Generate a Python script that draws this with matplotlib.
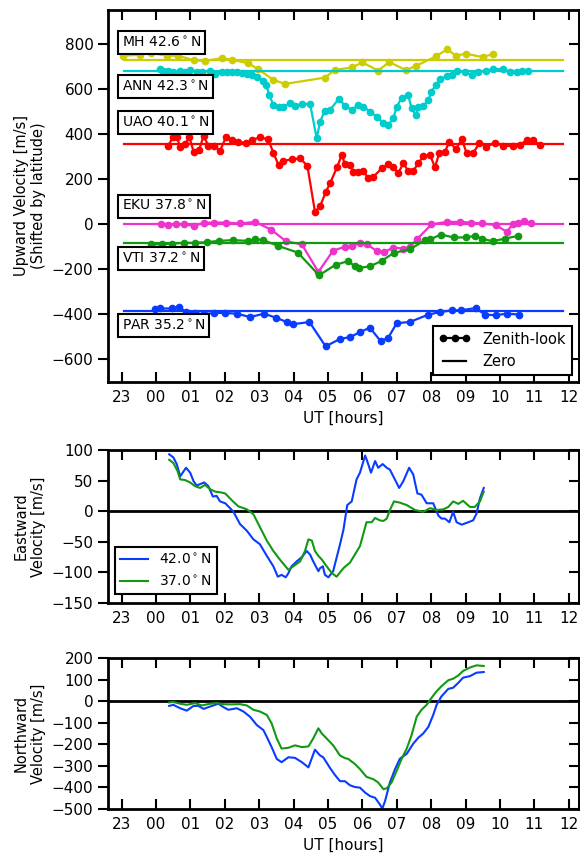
import matplotlib
matplotlib.use("Agg")
import matplotlib.pyplot as plt
from matplotlib.lines import Line2D

# ---------------- data ----------------
hour_ticks = list(range(-1, 13))
hour_labels = ['23', '00', '01', '02', '03', '04', '05', '06', '07', '08', '09', '10', '11', '12']

stations = ['MH', 'ANN', 'UAO', 'EKU', 'VTI', 'PAR']
station_lats = [42.6, 42.3, 40.1, 37.8, 37.2, 35.2]
station_offsets = [730, 680, 357, 0, -85, -385]
station_colors = ['#cccc00', '#00cccc', '#ff0000', '#ee33cc', '#119911', '#0a3cff']
label_y = [804, 609, 449, 80, -153, -449]

mh_t = [-0.95, -0.47, -0.15, 0.31, 0.65, 1.11, 1.42, 1.91, 2.20, 2.68, 2.97, 3.41, 3.75,
        4.91, 5.20, 5.69, 6.00, 6.46, 6.78, 7.27, 7.56, 8.14, 8.47, 8.72, 9.01, 9.50, 9.79]
mh_v = [747, 751, 759, 747, 747, 726, 724, 736, 729, 714, 687, 640, 622,
        650, 684, 695, 717, 681, 719, 683, 702, 744, 776, 747, 756, 741, 754]

ann_t = [0.10, 0.21, 0.36, 0.50, 0.70, 0.84, 0.99, 1.18, 1.33, 1.57, 1.72, 1.91, 2.05, 2.20,
         2.35, 2.49, 2.64, 2.78, 2.93, 3.12, 3.20, 3.29, 3.41, 3.56, 3.70, 3.90, 4.04, 4.24,
         4.48, 4.67, 4.77, 4.91, 5.06, 5.32, 5.49, 5.69, 5.88, 6.03, 6.22, 6.42, 6.61, 6.75,
         6.90, 7.00, 7.14, 7.33, 7.43, 7.56, 7.63, 7.77, 7.92, 8.01, 8.14, 8.26, 8.45, 8.60,
         8.74, 8.98, 9.18, 9.37, 9.61, 9.81, 10.10, 10.29, 10.49, 10.63, 10.82]
ann_v = [687, 681, 680, 677, 680, 677, 684, 677, 677, 680, 667, 673, 673, 673,
         673, 670, 667, 662, 652, 637, 618, 573, 529, 521, 519, 539, 526, 533,
         533, 381, 455, 504, 507, 557, 525, 507, 529, 521, 499, 477, 447, 440,
         470, 521, 559, 573, 514, 484, 521, 524, 551, 588, 618, 643, 655, 662,
         681, 673, 662, 677, 681, 687, 689, 673, 677, 681, 680]

uao_t = [0.36, 0.48, 0.60, 0.70, 0.84, 0.97, 1.09, 1.25, 1.38, 1.52, 1.67, 1.86, 2.03, 2.20,
         2.39, 2.62, 2.78, 3.02, 3.26, 3.41, 3.56, 3.70, 3.94, 4.19, 4.40, 4.62, 4.77, 4.94,
         5.06, 5.27, 5.40, 5.49, 5.64, 5.74, 5.88, 6.03, 6.17, 6.32, 6.56, 6.75, 6.90, 7.04,
         7.19, 7.33, 7.48, 7.63, 7.77, 7.97, 8.11, 8.24, 8.40, 8.53, 8.72, 8.89, 9.03, 9.22,
         9.40, 9.61, 9.85, 10.10, 10.37, 10.58, 10.78, 10.97, 11.16]
uao_v = [348, 385, 385, 344, 356, 385, 321, 329, 391, 348, 348, 326, 385, 373,
         366, 359, 373, 385, 376, 317, 262, 281, 287, 292, 259, 55, 80, 144,
         181, 255, 307, 267, 262, 233, 230, 237, 203, 210, 247, 265, 255, 225,
         270, 237, 237, 270, 302, 307, 252, 317, 321, 366, 332, 376, 317, 314,
         359, 344, 359, 348, 346, 351, 373, 373, 351]

eku_t = [0.14, 0.36, 0.58, 0.82, 1.10, 1.38, 1.67, 2.03, 2.44, 2.88, 3.34, 3.78, 4.24, 4.72,
         5.15, 5.48, 5.69, 5.93, 6.12, 6.42, 6.64, 6.90, 7.19, 7.38, 7.58, 8.01, 8.45, 8.84,
         9.15, 9.47, 9.88, 10.20, 10.37, 10.53, 10.71, 10.90]
eku_v = [-1, -4, -1, -1, -8, 6, 7, 7, 3, 10, -24, -76, -90, -212,
         -117, -101, -98, -83, -89, -119, -123, -104, -108, -101, -68, -1, 10, 10,
         7, 3, -4, -34, -1, 3, 13, 6]

vti_t = [-0.15, 0.17, 0.46, 0.81, 1.13, 1.47, 1.83, 2.23, 2.67, 2.88, 3.12, 3.54, 4.12, 4.74,
         5.22, 5.59, 5.78, 5.91, 6.22, 6.56, 6.92, 7.38, 7.82, 7.97, 8.28, 8.66, 9.01, 9.27,
         9.47, 9.79, 10.15, 10.53]
vti_v = [-90, -89, -86, -83, -83, -80, -74, -71, -74, -67, -71, -96, -126, -227,
         -180, -164, -187, -194, -187, -163, -127, -112, -71, -68, -46, -59, -59, -52,
         -64, -76, -64, -52]

par_t = [-0.03, 0.12, 0.46, 0.67, 0.87, 1.13, 1.38, 1.67, 2.01, 2.35, 2.73, 3.14, 3.49, 3.80,
         3.97, 4.46, 4.93, 5.35, 5.64, 5.93, 6.22, 6.53, 6.75, 7.00, 7.38, 7.92, 8.26, 8.60,
         8.87, 9.30, 9.56, 9.88, 10.20, 10.56]
par_v = [-378, -374, -374, -367, -390, -394, -400, -394, -394, -397, -412, -397, -415, -434,
         -444, -434, -542, -509, -501, -479, -459, -519, -504, -439, -434, -401, -390, -382,
         -382, -372, -401, -404, -397, -401]

station_t = [mh_t, ann_t, uao_t, eku_t, vti_t, par_t]
station_v = [mh_v, ann_v, uao_v, eku_v, vti_v, par_v]

east_lats = [42.0, 37.0]
line_colors = ['#0a3cff', '#119911']

east42_t = [0.38, 0.50, 0.60, 0.70, 0.87, 0.99, 1.09, 1.18, 1.40, 1.52, 1.65, 1.76, 1.86, 2.01,
            2.15, 2.25, 2.44, 2.64, 2.83, 3.02, 3.22, 3.41, 3.54, 3.65, 3.77, 3.85, 3.94, 4.09,
            4.24, 4.38, 4.48, 4.57, 4.72, 4.77, 4.85, 4.91, 5.01, 5.15, 5.20, 5.35, 5.45, 5.56,
            5.69, 5.83, 5.93, 6.08, 6.14, 6.25, 6.37, 6.46, 6.59, 6.71, 6.80, 6.90, 7.07, 7.19,
            7.36, 7.48, 7.60, 7.72, 7.87, 8.06, 8.21, 8.30, 8.40, 8.53, 8.64, 8.74, 8.89, 9.08,
            9.22, 9.32, 9.42, 9.53]
east42_v = [93, 88, 77, 57, 71, 63, 49, 42, 47, 41, 24, 25, 16, 13,
            5, -1, -21, -32, -46, -54, -73, -90, -107, -104, -108, -101, -90, -82,
            -75, -65, -71, -82, -98, -93, -90, -104, -108, -98, -87, -54, -30, 10,
            16, 52, 63, 91, 82, 63, 82, 71, 77, 71, 68, 57, 38, 49,
            71, 60, 29, 27, 13, 13, -7, -12, -12, -18, -1, -18, -22, -18,
            -15, -4, 21, 38]

east37_t = [0.38, 0.50, 0.62, 0.70, 0.84, 0.99, 1.13, 1.28, 1.42, 1.57, 1.72, 1.86, 2.01, 2.20,
            2.39, 2.64, 2.83, 3.02, 3.22, 3.41, 3.60, 3.85, 3.99, 4.19, 4.33, 4.43, 4.53, 4.62,
            4.72, 4.82, 4.96, 5.11, 5.25, 5.45, 5.64, 5.78, 5.93, 6.12, 6.27, 6.37, 6.51, 6.61,
            6.71, 6.80, 6.92, 7.09, 7.29, 7.53, 7.77, 7.97, 8.16, 8.35, 8.50, 8.64, 8.79, 8.93,
            9.13, 9.27, 9.42, 9.53]
east37_v = [84, 79, 66, 52, 51, 47, 41, 38, 43, 36, 32, 31, 29, 18,
            8, 3, -5, -26, -48, -65, -79, -96, -90, -82, -65, -46, -48, -65,
            -73, -79, -90, -101, -107, -93, -84, -71, -57, -18, -18, -11, -15, -16,
            -12, 2, 16, 14, 10, 2, -1, 5, 2, 3, 7, 16, 12, 17,
            7, 7, 16, 32]

north42_t = [0.38, 0.50, 0.70, 0.89, 1.09, 1.23, 1.38, 1.57, 1.81, 1.96, 2.10, 2.35, 2.54, 2.73,
             2.93, 3.12, 3.22, 3.36, 3.51, 3.65, 3.85, 4.04, 4.24, 4.43, 4.62, 4.77, 4.86, 5.06,
             5.20, 5.35, 5.49, 5.64, 5.78, 5.93, 6.08, 6.22, 6.37, 6.51, 6.58, 6.66, 6.80, 6.95,
             7.09, 7.29, 7.48, 7.63, 7.77, 7.92, 8.06, 8.16, 8.30, 8.50, 8.64, 8.79, 8.93, 9.13,
             9.32, 9.53]
north42_v = [-22, -17, -33, -44, -22, -22, -36, -25, -12, -28, -40, -33, -48, -72,
             -111, -134, -166, -213, -268, -283, -260, -263, -283, -307, -225, -252, -260, -310,
             -342, -371, -371, -390, -398, -401, -424, -440, -448, -479, -498, -463, -377, -315,
             -267, -244, -197, -169, -150, -119, -64, -17, 22, 57, 62, 85, 109, 116,
             132, 135]

north37_t = [0.38, 0.50, 0.70, 0.89, 1.13, 1.33, 1.57, 1.76, 1.96, 2.15, 2.44, 2.64, 2.83, 3.02,
             3.22, 3.36, 3.51, 3.65, 3.85, 4.04, 4.24, 4.43, 4.57, 4.72, 4.82, 4.96, 5.15, 5.35,
             5.49, 5.59, 5.78, 5.93, 6.12, 6.32, 6.46, 6.61, 6.71, 6.85, 7.00, 7.14, 7.29, 7.43,
             7.58, 7.72, 7.87, 8.01, 8.16, 8.30, 8.50, 8.64, 8.79, 8.93, 9.13, 9.32, 9.53]
north37_v = [-6, -4, -12, -17, -9, -20, -12, -9, -14, -15, -14, -20, -40, -48,
             -64, -103, -173, -220, -216, -205, -213, -210, -173, -126, -150, -173, -205, -252,
             -264, -268, -291, -315, -351, -362, -377, -408, -404, -377, -322, -268, -220, -158,
             -72, -40, -17, 15, 46, 69, 97, 104, 119, 140, 156, 166, 163]

# ---------------- figure ----------------
plt.rcParams['font.family'] = ['DejaVu Sans']
fig = plt.figure(figsize=(5.8, 8.58), dpi=100)

XLIM = (-1.4, 12.3)

def style_axis(ax, yticks):
    for s in ax.spines.values():
        s.set_linewidth(2)
    ax.set_xlim(*XLIM)
    ax.set_xticks(hour_ticks)
    ax.set_xticklabels(hour_labels)
    ax.set_yticks(yticks)
    ax.tick_params(axis='x', direction='in', top=True, bottom=True, length=7, width=1.5,
                   labelsize=11, pad=6)
    ax.tick_params(axis='y', direction='out', left=True, right=False, length=7, width=1.5,
                   labelsize=11)
    sec = ax.secondary_yaxis('right')
    sec.set_yticks(yticks)
    sec.tick_params(axis='y', direction='in', length=7, width=1.5, labelright=False)
    sec.spines['right'].set_linewidth(2)

# Top panel
ax1 = fig.add_axes([0.1862, 0.5548, 0.812, 0.4336])
for name, lat, off, col, ly, t, v in zip(stations, station_lats, station_offsets,
                                          station_colors, label_y, station_t, station_v):
    ax1.plot([-0.93, 11.83], [off, off], color=col, lw=1.6)
    ax1.plot(t, v, '-o', color=col, lw=1.6, ms=4.5, mec=col)
    ax1.text(-1.0, ly, f'{name} {lat:.1f}$^\\circ$N', fontsize=10, va='center', ha='left',
             bbox=dict(boxstyle='square,pad=0.3', fc='white', ec='black', lw=1.5), zorder=5)
ax1.set_ylim(-700, 950)
style_axis(ax1, [-600, -400, -200, 0, 200, 400, 600, 800])
ax1.set_ylabel('Upward Velocity [m/s]\n(Shifted by latitude)', fontsize=10.5)
ax1.set_xlabel('UT [hours]', fontsize=11)
h1 = [Line2D([], [], color='black', marker='o', ms=4.5, lw=1.6),
      Line2D([], [], color='black', lw=1.6)]
leg1 = ax1.legend(h1, ['Zenith-look', 'Zero'], loc='lower right', numpoints=3,
                  fontsize=10.5, fancybox=False, edgecolor='black', framealpha=1,
                  handlelength=2.2, borderaxespad=0.5)
leg1.get_frame().set_linewidth(1.5)

# Middle panel
ax2 = fig.add_axes([0.1862, 0.2972, 0.812, 0.1783])
ax2.axhline(0, color='black', lw=2)
for lat, col, t, v in zip(east_lats, line_colors, [east42_t, east37_t], [east42_v, east37_v]):
    ax2.plot(t, v, color=col, lw=1.5, label=f'{lat:.1f}$^\\circ$N')
ax2.set_ylim(-150, 100)
style_axis(ax2, [-150, -100, -50, 0, 50, 100])
ax2.set_ylabel('Eastward\nVelocity [m/s]', fontsize=10.5)
leg2 = ax2.legend(loc='lower left', fontsize=10, fancybox=False, edgecolor='black',
                  framealpha=1, borderaxespad=0.3, bbox_to_anchor=(0.005, 0.03))
leg2.get_frame().set_linewidth(1.5)

# Bottom panel
ax3 = fig.add_axes([0.1862, 0.0571, 0.812, 0.176])
ax3.axhline(0, color='black', lw=2)
for lat, col, t, v in zip(east_lats, line_colors, [north42_t, north37_t], [north42_v, north37_v]):
    ax3.plot(t, v, color=col, lw=1.5)
ax3.set_ylim(-500, 200)
style_axis(ax3, [-500, -400, -300, -200, -100, 0, 100, 200])
ax3.set_ylabel('Northward\nVelocity [m/s]', fontsize=10.5)
ax3.set_xlabel('UT [hours]', fontsize=11)

fig.savefig('out.png', dpi=100)
